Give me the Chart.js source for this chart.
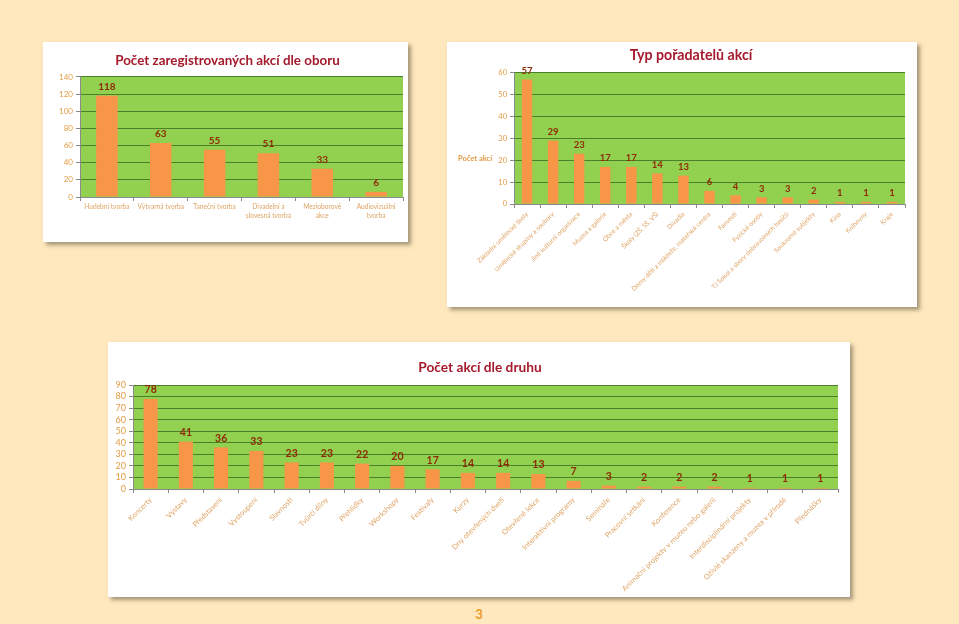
<!DOCTYPE html>
<html><head><meta charset="utf-8">
<script src="https://cdn.jsdelivr.net/npm/chart.js@4/dist/chart.umd.min.js"></script>
<style>
html,body{margin:0;padding:0;}
body{width:959px;height:624px;background:#FFE8BD;position:relative;overflow:hidden;font-family:Lato,sans-serif;}
.panel{position:absolute;background:#fff;box-shadow:3px 3px 4px rgba(90,80,60,0.55);}
canvas{display:block;position:absolute;left:0;top:0;}
#pg{position:absolute;left:469px;top:606px;width:20px;text-align:center;color:#EA9A2A;font:bold 13px Lato,sans-serif;}
</style></head><body>
<div class="panel" style="left:43px;top:42px;width:365px;height:200px"><canvas id="c1" width="365" height="200"></canvas></div>
<div class="panel" style="left:447px;top:42px;width:470px;height:265px"><canvas id="c2" width="470" height="265"></canvas></div>
<div class="panel" style="left:108px;top:342px;width:742px;height:255px"><canvas id="c3" width="746" height="255"></canvas></div>
<div id="pg">3</div>
<script>
// ---- data ----
const oborTitle = "Počet zaregistrovaných akcí dle oboru";
const oborLabels = [["Hudební tvorba"],["Výtvarná tvorba"],["Taneční tvorba"],["Divadelní a","slovesná tvorba"],["Mezioborové","akce"],["Audiovizuální","tvorba"]];
const oborValues = [118,63,55,51,33,6];
const oborTicks = [0,20,40,60,80,100,120,140];

const poradTitle = "Typ pořadatelů akcí";
const poradAxisTitle = "Počet akcí";
const poradLabels = ["Základní umělecké školy","Umělecké skupiny a soubory","Jiné kulturní organizace","Muzea a galerie","Obce a města","Školy (ZŠ, SŠ, VŠ)","Divadla","Domy dětí a mládeže, mateřská centra","Farnosti","Fyzické osoby","TJ Sokol a sbory dobrovolných hasičů","Soukromé subjekty","Kina","Knihovny","Kraje"];
const poradValues = [57,29,23,17,17,14,13,6,4,3,3,2,1,1,1];
const poradTicks = [0,10,20,30,40,50,60];

const druhTitle = "Počet akcí dle druhu";
const druhLabels = ["Koncerty","Výstavy","Představení","Vystoupení","Slavnosti","Tvůrčí dílny","Přehlídky","Workshopy","Festivaly","Kurzy","Dny otevřených dveří","Otevřené lekce","Interaktivní programy","Semináře","Pracovní setkání","Konference","Animační projekty v muzeu nebo galerii","Interdisciplinární projekty","Oživlé skanzeny a muzea v přírodě","Přednášky"];
const druhValues = [78,41,36,33,23,23,22,20,17,14,14,13,7,3,2,2,2,1,1,1];
const druhTicks = [0,10,20,30,40,50,60,70,80,90];

// ---- styles ----
const GREEN = '#92D050', GRID = '#4D7F2A', BAR = '#F79646', VAL = '#8F2A06', TITLE = '#A51A2C';
const TICKC = '#E49B45', XLAB = '#DFA466', AXIS = '#8A8A8A';
const FONT = 'Lato, sans-serif';

const greenBg = {id:'greenBg', beforeDraw(chart){const {ctx,chartArea:a}=chart;ctx.save();ctx.fillStyle=GREEN;ctx.fillRect(a.left,a.top,a.right-a.left,a.bottom-a.top);ctx.restore();}};
const valueLabels = {id:'valueLabels', afterDatasetsDraw(chart,args,opts){
  const {ctx}=chart; const ds=chart.data.datasets[0]; ctx.save();
  ctx.fillStyle=VAL; ctx.font='bold '+opts.size+'px '+FONT; ctx.textAlign='center'; ctx.textBaseline='bottom';
  chart.getDatasetMeta(0).data.forEach((b,i)=>{ctx.fillText(String(ds.data[i]), b.x, b.y-opts.gap);});
  ctx.restore();}};
const sideTitle = {id:'sideTitle', afterDraw(chart,args,opts){
  if(!opts.text) return; const {ctx,chartArea:a}=chart; ctx.save();
  ctx.fillStyle=TICKC; ctx.font='bold '+opts.size+'px '+FONT; ctx.textAlign='left'; ctx.textBaseline='middle';
  ctx.fillText(opts.text, opts.x, a.top+(a.bottom-a.top)*opts.yFrac); ctx.restore();}};

function make(id, cfg){
  const tk = cfg.ticks;
  const scales = {
    x:{grid:{display:true, drawOnChartArea:false, offset:true, tickLength:4, tickColor:AXIS},
       border:{color:AXIS},
       ticks:{color:XLAB, font:{family:FONT, size:cfg.xSize, lineHeight:1.38}, autoSkip:false, minRotation:cfg.rot, maxRotation:cfg.rot, padding:cfg.xPad},
       afterFit:s=>{s.height=cfg.xH;}},
    y:{min:tk[0], max:tk[tk.length-1],
       afterBuildTicks:s=>{s.ticks=tk.map(v=>({value:v}));},
       grid:{color:GRID, lineWidth:1, tickLength:4, tickColor:AXIS},
       border:{color:AXIS},
       ticks:{color:TICKC, font:{family:FONT, size:cfg.ySize}, padding:3, autoSkip:false},
       afterFit:s=>{s.width=cfg.yW;}}
  };
  if (cfg.rightW) {
    scales.y2 = {position:'right', display:true, grid:{display:false}, border:{display:false}, ticks:{display:false},
                 afterFit:s=>{s.width=cfg.rightW;}};
  }
  return new Chart(document.getElementById(id), {
    type:'bar',
    data:{labels:cfg.labels, datasets:[{data:cfg.values, backgroundColor:BAR, barPercentage:0.4, categoryPercentage:1, yAxisID:'y'}]},
    options:{
      responsive:false, animation:false, devicePixelRatio:1,
      layout:{padding:{left:cfg.padL, right:cfg.padR, top:0, bottom:0}},
      plugins:{
        legend:{display:false}, tooltip:{enabled:false},
        title:{display:true, text:cfg.title, color:TITLE, font:{family:FONT, size:cfg.titleSize, weight:'bold', lineHeight:1.2}, padding:{top:cfg.titleTop, bottom:cfg.titleBottom}},
        valueLabels:{size:cfg.valSize, gap:cfg.valGap},
        sideTitle:{text:cfg.side||'', size:7.5, x:cfg.sideX||0, yFrac:0.65}
      },
      scales
    },
    plugins:[greenBg, valueLabels, sideTitle]
  });
}

make('c1',{labels:oborLabels, values:oborValues, ticks:oborTicks, title:oborTitle, titleSize:13.4, titleTop:11, titleBottom:7.9,
  padL:9, padR:5, yW:28, xH:45, xSize:6.6, ySize:8, rot:0, xPad:1, valSize:10, valGap:4});
make('c2',{labels:poradLabels, values:poradValues, ticks:poradTicks, title:poradTitle, titleSize:14.2, titleTop:4.5, titleBottom:9.4,
  padL:30, padR:12, yW:37, xH:103, xSize:6.5, ySize:7.5, rot:45, xPad:2, valSize:9.5, valGap:4, side:poradAxisTitle, sideX:11});
make('c3',{labels:druhLabels, values:druhValues, ticks:druhTicks, title:druhTitle, titleSize:13.7, titleTop:17.8, titleBottom:8.8,
  padL:0, padR:2, rightW:14, yW:25, xH:108, xSize:7.5, ySize:9, rot:45, xPad:2, valSize:10.5, valGap:4});
</script>
</body></html>
